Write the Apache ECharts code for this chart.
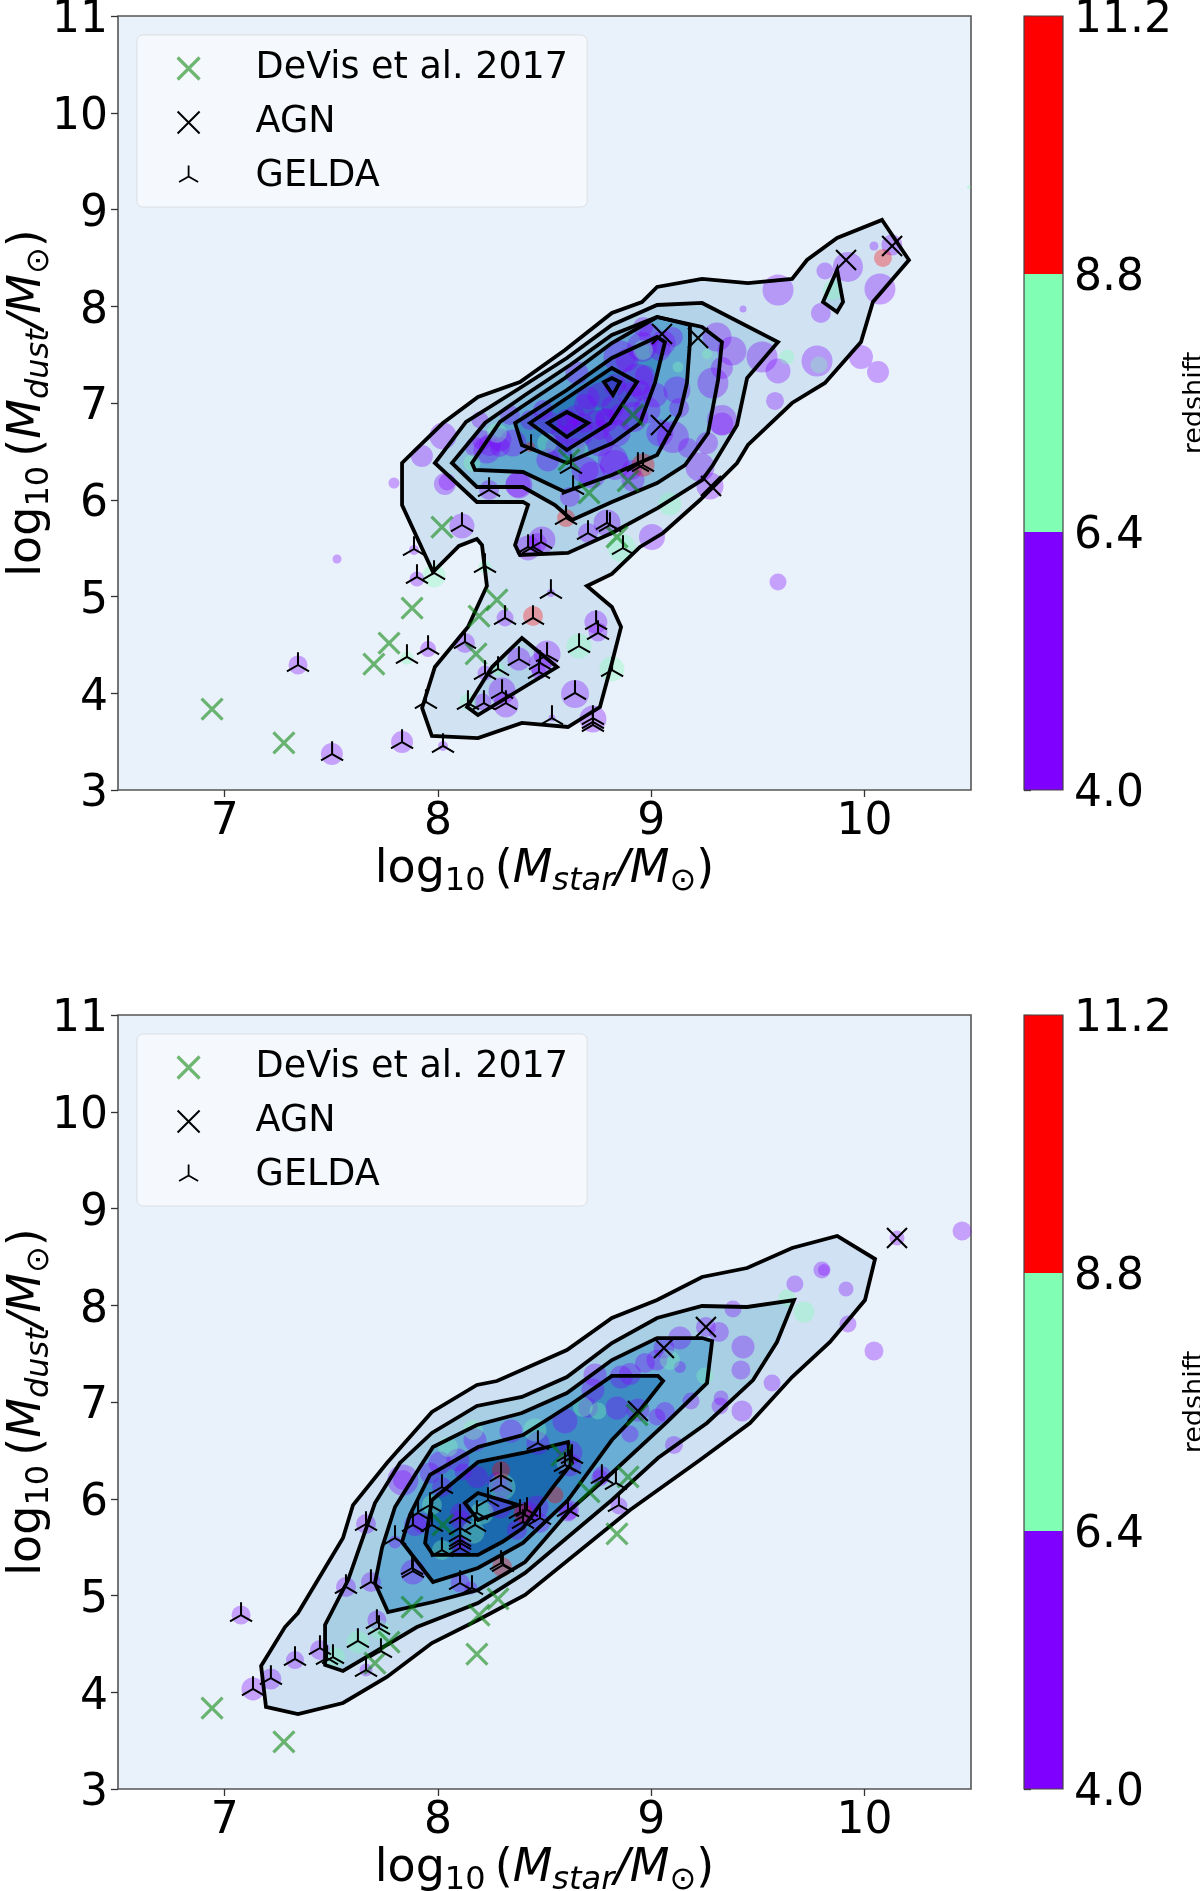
<!DOCTYPE html>
<html><head><meta charset="utf-8">
<style>html,body{margin:0;padding:0;background:#fff}#c{width:1200px;height:1891px}</style>
<script src="https://cdn.jsdelivr.net/npm/echarts@6/dist/echarts.min.js"></script>
</head><body><div id="c"></div>
<script>
// Tick labels and colour bar bands
const xTicks = [7, 8, 9, 10];
const redshiftTicks = [4.0, 6.4, 8.8, 11.2];
const redshiftBands = [[4.0, 6.4], [6.4, 8.8], [8.8, 11.2]];
const legendNames = ['DeVis et al. 2017', 'AGN', 'GELDA'];

// Contour levels, upper panel: [log Mstar, log Mdust]
const topLevel1 = [[10.083,8.892],[10.209,8.478],[10.040,8.044],[9.984,7.630],[9.815,7.207],[9.661,7.0],[9.454,6.566],[9.403,6.38],[9.229,5.997],[9.056,5.656],[8.948,5.512],[8.816,5.233],[8.699,5.109],[8.816,4.891],[8.859,4.685],[8.816,4.313],[8.76,3.858],[8.61,3.651],[8.394,3.693],[8.188,3.537],[7.972,3.558],[7.926,3.848],[7.986,4.271],[8.141,4.685],[8.23,5.109],[8.207,5.532],[8.183,5.594],[8.099,5.522],[7.977,5.253],[7.832,5.946],[7.832,6.38],[8.024,6.793],[8.188,7.062],[8.385,7.217],[8.596,7.548],[8.816,7.93],[8.957,8.044],[9.028,8.199],[9.239,8.282],[9.454,8.24],[9.661,8.282],[9.731,8.478],[9.872,8.705]];
const topLevel2Island = [[9.806,8.044],[9.872,7.94],[9.9,8.044],[9.872,8.375]];
const topLevel2Lobe = [[8.394,4.571],[8.559,4.271],[8.188,3.775],[8.137,3.858],[8.254,4.271]];
const topLevel2 = [[9.595,7.63],[9.45,7.258],[9.403,6.773],[9.29,6.359],[9.239,6.204],[9.032,5.915],[8.816,5.656],[8.61,5.45],[8.385,5.429],[8.362,5.532],[8.423,5.946],[8.399,5.977],[8.183,5.977],[7.986,6.38],[8.132,6.804],[8.385,7.155],[8.605,7.465],[8.816,7.806],[9.028,8.013],[9.239,8.034]];
const topLevel3 = [[9.332,7.63],[9.314,7.238],[9.267,6.69],[9.159,6.359],[9.028,6.173],[8.816,5.977],[8.629,5.791],[8.549,5.946],[8.399,6.132],[8.183,6.132],[8.066,6.38],[8.221,6.793],[8.409,7.083],[8.62,7.393],[8.816,7.703],[9.028,7.889],[9.239,7.786]];
const topLevel4 = [[9.182,7.63],[9.168,7.207],[9.135,6.897],[9.028,6.463],[8.816,6.256],[8.596,6.08],[8.399,6.287],[8.174,6.308],[8.16,6.38],[8.291,6.804],[8.385,6.948],[8.596,7.258],[8.816,7.62],[9.028,7.889],[9.182,7.806]];
const topLevel5 = [[8.362,6.793],[8.394,6.566],[8.605,6.38],[8.821,6.587],[8.948,6.793],[9.018,7.207],[9.065,7.63],[9.028,7.682],[8.816,7.465],[8.605,7.134]];
const topLevel6 = [[8.432,6.793],[8.605,6.514],[8.807,6.793],[8.934,7.217],[8.816,7.362],[8.605,7.052]];
const topLevel7a = [[8.516,6.793],[8.605,6.649],[8.704,6.793],[8.605,6.907]];
const topLevel7b = [[8.779,7.217],[8.821,7.083],[8.854,7.217],[8.816,7.258]];

// Contour levels, lower panel
const botLevel1 = [[9.872,8.716],[10.05,8.478],[10.003,8.054],[9.839,7.62],[9.661,7.258],[9.464,6.783],[9.229,6.4],[8.901,5.884],[8.409,5.005],[8.188,4.747],[7.972,4.509],[7.761,4.158],[7.555,3.889],[7.344,3.775],[7.194,3.848],[7.171,4.271],[7.283,4.674],[7.344,4.819],[7.555,5.594],[7.602,5.935],[7.761,6.37],[7.972,6.897],[8.183,7.176],[8.277,7.217],[8.605,7.537],[8.816,7.868],[9.028,8.054],[9.239,8.292],[9.45,8.385],[9.661,8.592]];
const botLevel2 = [[9.67,8.054],[9.59,7.62],[9.478,7.227],[9.262,6.783],[9.032,6.421],[8.816,5.987],[8.409,5.233],[8.188,4.922],[7.902,4.674],[7.555,4.22],[7.471,4.282],[7.471,4.695],[7.579,5.16],[7.705,5.956],[7.822,6.37],[7.972,6.68],[8.183,6.959],[8.394,7.052],[8.605,7.258],[8.816,7.61],[9.028,7.868],[9.239,7.992],[9.45,7.982]];
const botLevel3 = [[7.766,4.829],[7.705,5.129],[7.738,5.491],[7.799,5.915],[7.916,6.328],[7.977,6.535],[8.183,6.762],[8.394,6.886],[8.605,7.093],[8.816,7.434],[9.028,7.661],[9.239,7.661],[9.286,7.63],[9.262,7.196],[9.074,6.793],[8.816,6.266],[8.62,5.884],[8.409,5.346],[8.188,5.057],[7.977,4.933]];
const botLevel4 = [[8.816,7.269],[9.032,7.269],[9.056,7.217],[8.938,6.886],[8.816,6.607],[8.61,5.987],[8.399,5.543],[8.188,5.284],[7.977,5.14],[7.832,5.553],[7.869,5.832],[7.963,6.246],[8.188,6.535],[8.399,6.659],[8.62,6.969]];
const botLevel5 = [[7.94,5.543],[7.977,5.419],[8.188,5.419],[8.301,5.553],[8.399,5.698],[8.54,6.121],[8.629,6.37],[8.61,6.587],[8.399,6.473],[8.188,6.38],[7.972,5.987]];
const botLevel6 = [[8.127,5.956],[8.188,6.059],[8.376,5.935],[8.188,5.78]];

// Bubbles: [log Mstar, log Mdust, bubble size, redshift]
const topPurple = [[9.595,8.168,31,5],[9.431,7.972,7,5],[9.923,8.406,30,5],[9.815,8.364,17,5],[10.045,8.623,9,5],[10.129,8.633,21,5],[10.073,8.178,31,5],[9.796,7.93,20,5],[9.309,7.682,29,5],[9.379,7.537,29,5],[9.52,7.476,31,5],[9.595,7.331,25,5],[9.778,7.434,31,5],[9.984,7.476,24,5],[10.064,7.32,22,5],[9.581,7.021,18,5],[9.595,5.15,17,5],[9.29,7.207,31,5],[9.332,7.362,22,5],[9.332,6.824,30,5],[9.332,6.783,23,5],[9.262,6.587,22,5],[9.173,6.535,20,5],[9.229,6.338,29,5],[9.276,6.142,27,5],[9.121,7.134,27,5],[9.131,6.948,20,5],[9.041,6.69,27,5],[9.102,6.649,32,5],[9.056,7.62,25,5],[8.957,7.579,30,5],[8.962,7.786,20,5],[9.102,7.682,20,5],[8.619,6.028,20,5],[8.723,6.256,27,5],[8.83,6.359,30,5],[8.915,6.204,23,5],[8.91,6.308,20,5],[9.004,5.615,26,5],[8.793,5.76,27,5],[8.704,5.656,20,5],[8.488,5.584,27,5],[8.423,5.501,25,5],[8.465,5.553,20,5],[8.376,6.153,25,5],[8.516,6.411,23,5],[8.352,6.587,27,5],[8.291,6.618,23,5],[8.704,7.052,23,5],[8.821,6.959,23,5],[8.793,6.824,23,5],[8.934,7.238,33,5],[8.854,7.476,33,5],[8.657,6.69,30,5],[8.559,6.545,23,5],[8.76,6.587,27,5],[8.915,6.855,30,5],[8.84,6.69,27,5],[8.98,6.928,27,5],[8.68,6.793,20,5],[8.024,6.659,27,5],[7.925,6.452,22,5],[8.033,6.163,22,5],[8.043,6.184,17,5],[8.24,6.101,20,5],[8.38,6.153,27,5],[8.23,6.514,27,5],[8.174,6.545,20,5],[8.197,6.824,17,5],[8.338,6.876,20,5],[8.291,6.545,20,5],[8.643,6.535,20,5],[8.784,6.845,20,5],[8.652,7.31,23,5],[8.493,6.928,20,5],[8.887,7.444,23,5],[8.821,6.411,30,5],[8.69,6.308,27,5],[8.61,6.804,20,5],[7.344,4.292,19,5],[7.503,3.372,22,5],[7.832,3.496,22,5],[8.024,3.455,10,5],[7.954,4.457,16,5],[8.127,4.519,20,5],[7.902,5.181,15,5],[7.888,5.481,10,5],[8.113,5.729,25,5],[8.53,5.036,8,5],[8.315,4.778,17,5],[8.741,4.736,23,5],[8.751,4.633,19,5],[8.38,4.354,23,5],[8.512,4.406,27,5],[8.479,4.302,23,5],[8.474,4.22,15,5],[8.221,4.209,15,5],[8.301,4.023,27,5],[8.643,3.992,28,5],[8.211,3.91,17,5],[8.319,3.879,25,5],[8.535,3.744,7,5],[8.727,3.734,27,5],[7.527,5.388,9,5],[7.794,6.173,11,5],[8.526,6.793,22,5],[8.605,6.824,22,5],[8.69,6.979,22,5],[8.76,7.083,25,5],[8.83,7.186,22,5],[8.901,7.083,25,5],[8.948,7.134,20,5],[8.737,6.824,20,5],[8.643,6.876,20,5],[8.573,6.669,20,5],[8.854,6.876,22,5],[8.76,6.721,20,5],[9.018,7.083,25,5],[8.971,7.289,20,5],[8.432,6.824,20,5],[8.244,6.566,22,5],[8.207,6.618,20,5],[9.041,7.548,22,5],[8.995,7.703,22,5]];
const topGreen = [[9.853,8.168,20,7.5],[9.637,7.476,15,7.5],[9.787,7.393,17,7.5],[9.126,7.372,11,7.5],[9.262,7.506,10,7.5],[9.088,5.956,23,7.5],[8.863,5.501,28,7.5],[8.666,6.514,17,7.5],[8.962,7.548,20,7.5],[8.16,6.38,17,7.5],[8.277,6.69,20,7.5],[8.512,6.587,20,7.5],[7.855,4.364,13,7.5],[7.982,5.212,23,7.5],[8.221,5.305,13,7.5],[8.662,4.488,25,7.5],[8.282,4.251,13,7.5],[8.816,4.251,25,7.5],[8.141,3.91,17,7.5],[10.49,9.233,4,7.5]];
const topRed = [[10.087,8.499,18,10],[8.962,6.359,23,10],[8.601,5.811,18,10],[8.432,6.545,10,10],[8.446,4.798,20,10]];
const botPurple = [[10.458,8.767,19,5],[10.153,8.695,15,5],[9.801,8.364,17,5],[9.81,8.364,12,5],[9.674,8.22,17,5],[9.914,8.168,15,5],[9.923,7.806,17,5],[10.045,7.527,19,5],[9.384,7.961,17,5],[9.318,7.724,20,5],[9.257,7.775,20,5],[9.135,7.662,23,5],[9.06,7.558,21,5],[9.431,7.569,23,5],[9.421,7.331,19,5],[9.567,7.196,17,5],[9.323,6.959,17,5],[9.328,7.041,15,5],[9.426,6.907,21,5],[9.187,7.01,17,5],[9.135,7.362,12,5],[9.027,7.434,21,5],[8.971,7.403,20,5],[8.901,7.289,22,5],[8.859,7.258,23,5],[8.737,7.279,23,5],[8.727,7.124,23,5],[9.065,6.897,20,5],[9.027,6.845,17,5],[8.938,6.917,23,5],[8.901,6.669,17,5],[8.84,6.938,23,5],[9.107,6.556,18,5],[8.769,6.245,18,5],[8.849,5.925,17,5],[8.615,5.884,20,5],[8.596,6.804,25,5],[8.704,6.938,20,5],[8.619,6.473,25,5],[8.469,6.576,23,5],[8.343,6.7,23,5],[8.174,6.607,23,5],[8.094,6.401,23,5],[8.01,6.37,23,5],[7.963,6.266,21,5],[7.836,6.194,31,5],[7.836,6.194,20,5],[8.183,6.225,22,5],[8.118,6.276,17,5],[8.301,6.111,20,5],[8.019,6.121,20,5],[7.893,5.729,22,5],[7.925,5.749,20,5],[7.799,5.553,13,5],[7.883,5.243,25,5],[8.104,5.129,19,5],[8.155,5.078,13,5],[8.418,5.853,23,5],[8.479,5.749,20,5],[8.371,5.677,20,5],[8.465,5.915,23,5],[8.291,5.915,23,5],[8.104,5.853,20,5],[8.104,5.78,20,5],[8.113,5.501,19,5],[8.104,5.543,13,5],[8.619,6.349,23,5],[8.76,6.214,17,5],[8.61,5.863,19,5],[8.277,6.173,20,5],[7.077,4.798,19,5],[7.133,4.034,23,5],[7.217,4.137,21,5],[7.33,4.333,18,5],[7.447,4.437,20,5],[7.663,4.23,13,5],[7.714,4.747,19,5],[7.569,5.088,20,5],[7.686,5.14,20,5],[7.663,5.739,20,5]];
const botGreen = [[9.637,8.075,17,7.5],[9.717,7.93,21,7.5],[9.252,7.269,17,7.5],[9.088,7.434,20,7.5],[8.68,6.948,20,7.5],[8.751,6.907,17,7.5],[8.455,6.711,23,7.5],[8.165,6.711,20,7.5],[8.047,6.535,20,7.5],[8.301,6.121,27,7.5],[7.972,5.935,20,7.5],[8.207,5.853,23,7.5],[8.165,5.656,23,7.5],[8.019,5.47,20,7.5],[8.596,6.37,17,7.5],[7.518,4.364,20,7.5],[7.625,4.519,22,7.5],[7.728,4.643,20,7.5]];
const botRed = [[8.296,6.297,18,10],[8.301,5.295,20,10],[8.399,5.853,19,10],[8.549,6.039,17,10]];

// Marker catalogues: [log Mstar, log Mdust]
const topDeVis = [[6.941,3.837],[7.278,3.486],[7.7,4.302],[7.771,4.519],[7.879,4.881],[8.019,5.718],[8.277,4.964],[8.193,4.798],[8.179,4.406],[8.709,6.07],[8.892,6.194],[8.84,5.615],[8.615,6.411],[8.915,6.876]];
const topAGN = [[10.13,8.623],[9.914,8.478],[9.051,7.713],[9.22,7.672],[9.046,6.773],[9.281,6.142]];
const topGELDA = [[7.344,4.292],[7.504,3.372],[7.832,3.496],[8.024,3.455],[7.954,4.468],[7.855,4.375],[8.127,4.53],[7.902,5.202],[7.982,5.243],[7.888,5.491],[8.113,5.739],[8.221,5.315],[8.53,5.047],[8.446,4.778],[8.315,4.778],[8.742,4.726],[8.751,4.623],[8.662,4.488],[8.38,4.354],[8.512,4.395],[8.479,4.313],[8.474,4.22],[8.282,4.251],[8.221,4.209],[8.817,4.24],[8.301,4.013],[8.643,4.003],[8.216,3.899],[8.141,3.899],[8.319,3.899],[7.944,3.91],[8.535,3.744],[8.727,3.744],[8.727,3.703],[8.727,3.672],[8.437,6.545],[8.624,6.339],[8.24,6.101],[8.634,6.121],[8.601,5.811],[8.704,5.656],[8.793,5.76],[8.807,5.739],[8.484,5.563],[8.446,5.512],[8.423,5.512],[8.868,5.501],[8.938,6.359],[8.962,6.359]];
const botDeVis = [[6.941,3.837],[7.278,3.486],[7.705,4.302],[7.771,4.519],[7.879,4.881],[8.183,4.395],[8.193,4.798],[8.282,4.964],[8.709,6.07],[8.892,6.225],[8.84,5.636],[8.024,5.729],[8.582,6.452],[8.934,6.866]];
const botAGN = [[10.153,8.695],[9.257,7.775],[9.06,7.558],[8.938,6.907]];
const botGELDA = [[7.077,4.798],[7.133,4.034],[7.217,4.147],[7.33,4.344],[7.447,4.457],[7.48,4.354],[7.508,4.364],[7.625,4.53],[7.663,4.23],[7.714,4.726],[7.724,4.664],[7.733,4.426],[7.569,5.088],[7.686,5.14],[7.663,5.739],[7.799,5.594],[7.879,5.284],[7.883,5.253],[8.104,5.129],[8.16,5.078],[8.305,5.315],[8.296,5.336],[8.61,5.884],[8.769,6.225],[8.835,6.163],[8.849,5.935],[7.907,5.853],[7.883,5.729],[7.963,5.935],[8.019,6.121],[7.972,5.729],[8.104,5.811],[8.104,5.698],[8.104,5.625],[8.104,5.574],[8.104,5.543],[8.019,5.47],[8.104,5.491],[8.174,5.729],[8.183,5.853],[8.235,5.987],[8.296,6.245],[8.296,6.142],[8.385,5.863],[8.418,5.884],[8.408,5.832],[8.399,5.76],[8.479,5.801],[8.469,6.576],[8.61,6.452],[8.629,6.432],[8.596,6.349],[8.619,6.328]];

// ---- styles and assembly ----
const COL_BANDS = ['#8000ff', '#80ffb4', '#ff0000'];
const bandColor = z => z < 6.4 ? COL_BANDS[0] : z < 8.8 ? COL_BANDS[1] : COL_BANDS[2];
const FONT = '"DejaVu Sans"';
const ICON_X = 'path://M-1 -1L1 1M1 -1L-1 1';
const ICON_Y = 'path://M0 -1L0 0L-0.866 0.5M0 0L0.866 0.5M0 1L0 1M-1 0L-1 0M1 0L1 0';
const C_DEVIS = 'rgba(0,128,0,0.55)';

const panels = [
  { top: 16,
    polys: [[topLevel1,'#d1e3f3'],[topLevel2,'#b3d3e8'],[topLevel2Island,'#b3d3e8'],[topLevel2Lobe,'#b3d3e8'],[topLevel3,'#89bedc'],[topLevel4,'#60a7d2'],[topLevel5,'#3e8ec4'],[topLevel6,'#2a7ab9'],[topLevel7a,'#1764ab'],[topLevel7b,'#1764ab']],
    bubbles: [...topPurple, ...topGreen, ...topRed], devis: topDeVis, agn: topAGN, gelda: topGELDA },
  { top: 1015,
    polys: [[botLevel1,'#cfe1f2'],[botLevel2,'#a9cfe5'],[botLevel3,'#6aaed6'],[botLevel4,'#3d8dc4'],[botLevel5,'#1b69af'],[botLevel6,'#2a7ab9']],
    bubbles: [...botPurple, ...botGreen, ...botRed], devis: botDeVis, agn: botAGN, gelda: botGELDA }
];

const axisLabel = { fontFamily: FONT, fontSize: 44, color: '#000' };
const tick = { show: true, length: 7, lineStyle: { color: '#333', width: 1.3 } };
const richName = {
  t: { fontFamily: FONT, fontSize: 46, color: '#000' },
  i: { fontFamily: FONT, fontSize: 46, fontStyle: 'italic', color: '#000' },
  s: { fontFamily: FONT, fontSize: 32, color: '#000', padding: [24, 0, 0, 0] },
  si: { fontFamily: FONT, fontSize: 32, fontStyle: 'italic', color: '#000', padding: [24, 0, 0, 0] }
};
const mathName = q => `{t|log}{s|10}{t|\u2009(}{i|M}{si|${q}}{i|/M}{s|\u2299}{t|)}`;

const grid = [], xAxis = [], yAxis = [], series = [], legend = [];
panels.forEach((p, k) => {
  const g = k * 2, c = k * 2 + 1;
  grid.push({ left: 118, top: p.top, width: 853, height: 774, outerBoundsMode: 'none', containLabel: false, show: true, backgroundColor: '#e9f1fb', borderColor: '#555', borderWidth: 1.6 });
  grid.push({ left: 1024, top: p.top, width: 39, height: 774, outerBoundsMode: 'none', containLabel: false, show: true, backgroundColor: 'transparent', borderColor: '#444', borderWidth: 1.2, z: 5 });
  xAxis.push({ gridIndex: g, type: 'value', min: 6.5, max: 10.5, splitLine: { show: false }, axisLine: { show: false },
    axisTick: { ...tick, customValues: xTicks }, axisLabel: { ...axisLabel, customValues: xTicks, margin: 11, formatter: v => String(v) },
    name: mathName('star'), nameLocation: 'middle', nameGap: 52, nameTextStyle: { rich: richName } });
  yAxis.push({ gridIndex: g, type: 'value', min: 3, max: 11, interval: 1, splitLine: { show: false }, axisLine: { show: false },
    axisTick: tick, axisLabel: { ...axisLabel, margin: 10, verticalAlign: 'top', lineHeight: 10, hideOverlap: false, showMinLabel: true, showMaxLabel: true },
    name: mathName('dust'), nameLocation: 'middle', nameGap: 62, nameMoveOverlap: false, nameRotate: 90, nameTextStyle: { rich: richName } });
  xAxis.push({ gridIndex: c, type: 'value', min: 0, max: 1, show: false });
  yAxis.push({ gridIndex: c, type: 'value', position: 'right', min: 4, max: 11.2, splitLine: { show: false }, axisLine: { show: false },
    axisTick: { ...tick, customValues: redshiftTicks }, axisLabel: { ...axisLabel, customValues: redshiftTicks, margin: 11, verticalAlign: 'top', lineHeight: 10, formatter: v => v.toFixed(1) },
    name: 'redshift', nameLocation: 'middle', nameGap: 118, nameRotate: 90, nameTextStyle: { fontFamily: FONT, fontSize: 27, color: '#000' } });

  const polyRender = (fillOn) => (params, api) => {
    const [pts, col] = p.polys[params.dataIndex];
    return { type: 'polygon', shape: { points: pts.map(q => api.coord(q)) },
      style: fillOn ? { fill: col, stroke: null } : { fill: 'none', stroke: '#000', lineWidth: 3.8, lineJoin: 'miter' } };
  };
  const polyData = p.polys.map((_, i) => [p.polys[i][0][0][0], p.polys[i][0][0][1]]);
  series.push({ type: 'custom', name: 'density', xAxisIndex: g, yAxisIndex: g, z: 1, silent: true, clip: true, renderItem: polyRender(true), data: polyData, animation: false });
  series.push({ type: 'scatter', name: 'galaxies', xAxisIndex: g, yAxisIndex: g, z: 2, silent: true, animation: false,
    symbolSize: v => v[2], data: p.bubbles.map(b => ({ value: b, itemStyle: { color: bandColor(b[3]), opacity: 0.33 } })) });
  series.push({ type: 'custom', name: 'density lines', xAxisIndex: g, yAxisIndex: g, z: 3, silent: true, clip: true, renderItem: polyRender(false), data: polyData, animation: false });
  const marker = (name, d, sym, size, color, w) => ({ type: 'scatter', name, xAxisIndex: g, yAxisIndex: g, z: 4, silent: true, animation: false,
    symbol: sym, symbolSize: size, symbolKeepAspect: true, data: d, itemStyle: { color: 'rgba(0,0,0,0)', borderColor: color, borderWidth: w, opacity: 1 } });
  series.push(marker(legendNames[0], p.devis, ICON_X, 21, C_DEVIS, 3.2));
  series.push(marker(legendNames[1], p.agn, ICON_X, 20, '#000', 2.1));
  series.push(marker(legendNames[2], p.gelda, ICON_Y, 25.5, '#000', 2));

  series.push({ type: 'custom', name: 'colour bar', xAxisIndex: c, yAxisIndex: c, z: 1, silent: true, animation: false,
    renderItem: (params, api) => {
      const [a, b] = redshiftBands[params.dataIndex];
      const p0 = api.coord([0, b]), p1 = api.coord([1, a]);
      return { type: 'rect', shape: { x: p0[0], y: p0[1], width: p1[0] - p0[0], height: p1[1] - p0[1] }, style: { fill: COL_BANDS[params.dataIndex] } };
    }, data: redshiftBands.map(b => [0, b[0]]) });

  legend.push({ left: 137, top: p.top + 19, orient: 'vertical', z: 20, padding: [12, 19, 9, 39], itemWidth: 22, itemHeight: 22, itemGap: 11,
    backgroundColor: 'rgba(255,255,255,0.55)', borderColor: 'rgba(204,204,204,0.5)', borderWidth: 1, borderRadius: 6, selectedMode: false,
    textStyle: { fontFamily: FONT, fontSize: 36.5, color: '#000', padding: [0, 0, 0, 51], lineHeight: 43 },
    data: [
      { name: legendNames[0], icon: ICON_X, itemStyle: { color: 'rgba(0,0,0,0)', borderColor: C_DEVIS, borderWidth: 3.2 } },
      { name: legendNames[1], icon: ICON_X, itemStyle: { color: 'rgba(0,0,0,0)', borderColor: '#000', borderWidth: 2 } },
      { name: legendNames[2], icon: ICON_Y, itemStyle: { color: 'rgba(0,0,0,0)', borderColor: '#000', borderWidth: 1.8 } }
    ] });
});

const chart = echarts.init(document.getElementById('c'), null, { renderer: 'canvas' });
chart.setOption({ animation: false, backgroundColor: '#fff', tooltip: { show: false }, grid, xAxis, yAxis, series, legend });
</script></body></html>
